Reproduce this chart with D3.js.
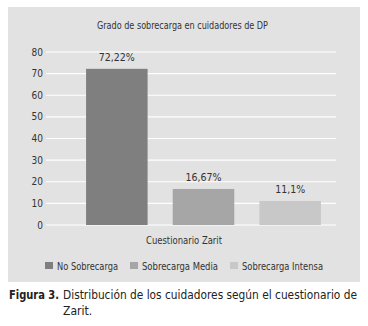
<!DOCTYPE html>
<html><head><meta charset="utf-8">
<script src="https://cdn.jsdelivr.net/npm/d3@7"></script>
<style>body{margin:0;background:#fff}svg{display:block}text{font-family:"DejaVu Sans Condensed","DejaVu Sans",sans-serif}</style>
</head><body>
<script>
const series = ["No Sobrecarga", "Sobrecarga Media", "Sobrecarga Intensa"];
const values = [72.22, 16.67, 11.1];
const valueLabels = ["72,22%", "16,67%", "11,1%"];
const colors = ["#7f7f7f", "#a6a6a6", "#c8c8c8"];
const yTicks = [0, 10, 20, 30, 40, 50, 60, 70, 80];
const category = "Cuestionario Zarit";
const title = "Grado de sobrecarga en cuidadores de DP";

const W = 368, H = 326;
const svg = d3.select("body").append("svg").attr("width", W).attr("height", H);

svg.append("rect").attr("x", 8).attr("y", 7).attr("width", 352).attr("height", 275).attr("fill", "#e2e2e2");

const y = d3.scaleLinear().domain([0, 80]).range([225, 52]);
const x = d3.scaleBand().domain(series).range([73.5, 333.5]).paddingInner(0.29).paddingOuter(0.145);

// gridlines
svg.append("g").selectAll("line").data(yTicks).join("line")
  .attr("x1", 46).attr("x2", 336)
  .attr("y1", d => y(d)).attr("y2", d => y(d))
  .attr("stroke", "#ffffff").attr("stroke-width", 1.2);

// y tick labels
svg.append("g").selectAll("text").data(yTicks).join("text")
  .attr("x", 43).attr("y", d => y(d)).attr("dy", "0.35em")
  .attr("text-anchor", "end").attr("font-size", 10).attr("fill", "#333")
  .text(d => d);

// bars
svg.append("g").selectAll("rect").data(series).join("rect")
  .attr("x", d => x(d)).attr("width", x.bandwidth())
  .attr("y", (d, i) => y(values[i])).attr("height", (d, i) => y(0) - y(values[i]))
  .attr("fill", (d, i) => colors[i]);

// value labels
svg.append("g").selectAll("text").data(series).join("text")
  .attr("x", d => x(d) + x.bandwidth() / 2)
  .attr("y", (d, i) => y(values[i]) - 8)
  .attr("text-anchor", "middle").attr("font-size", 10.5).attr("fill", "#333")
  .text((d, i) => valueLabels[i]);

// title
svg.append("text").attr("x", 182.5).attr("y", 28.5).attr("text-anchor", "middle")
  .attr("font-size", 11).attr("fill", "#333")
  .attr("textLength", 171).attr("lengthAdjust", "spacingAndGlyphs").text(title);

// axis category label
svg.append("text").attr("x", 184).attr("y", 244).attr("text-anchor", "middle")
  .attr("font-size", 10.5).attr("fill", "#333")
  .attr("textLength", 76).attr("lengthAdjust", "spacingAndGlyphs").text(category);

// legend
const legX = [45, 130, 230];
const legW = [61, 76, 81];
const leg = svg.append("g").selectAll("g").data(series).join("g")
  .attr("transform", (d, i) => `translate(${legX[i]},262)`);
leg.append("rect").attr("width", 8).attr("height", 7).attr("fill", (d, i) => colors[i]);
leg.append("text").attr("x", 12).attr("y", 7.5).attr("font-size", 10.5).attr("fill", "#333")
  .attr("textLength", (d, i) => legW[i]).attr("lengthAdjust", "spacingAndGlyphs")
  .text(d => d);

// caption
svg.append("text").attr("x", 9).attr("y", 299).attr("font-size", 12).attr("fill", "#222")
  .attr("font-weight", "bold").attr("textLength", 50).attr("lengthAdjust", "spacingAndGlyphs")
  .text("Figura 3.");
svg.append("text").attr("x", 63).attr("y", 299).attr("font-size", 12).attr("fill", "#222")
  .attr("textLength", 294).attr("lengthAdjust", "spacingAndGlyphs")
  .text("Distribución de los cuidadores según el cuestionario de");
svg.append("text").attr("x", 63).attr("y", 315).attr("font-size", 12).attr("fill", "#222")
  .text("Zarit.");
</script>
</body></html>
